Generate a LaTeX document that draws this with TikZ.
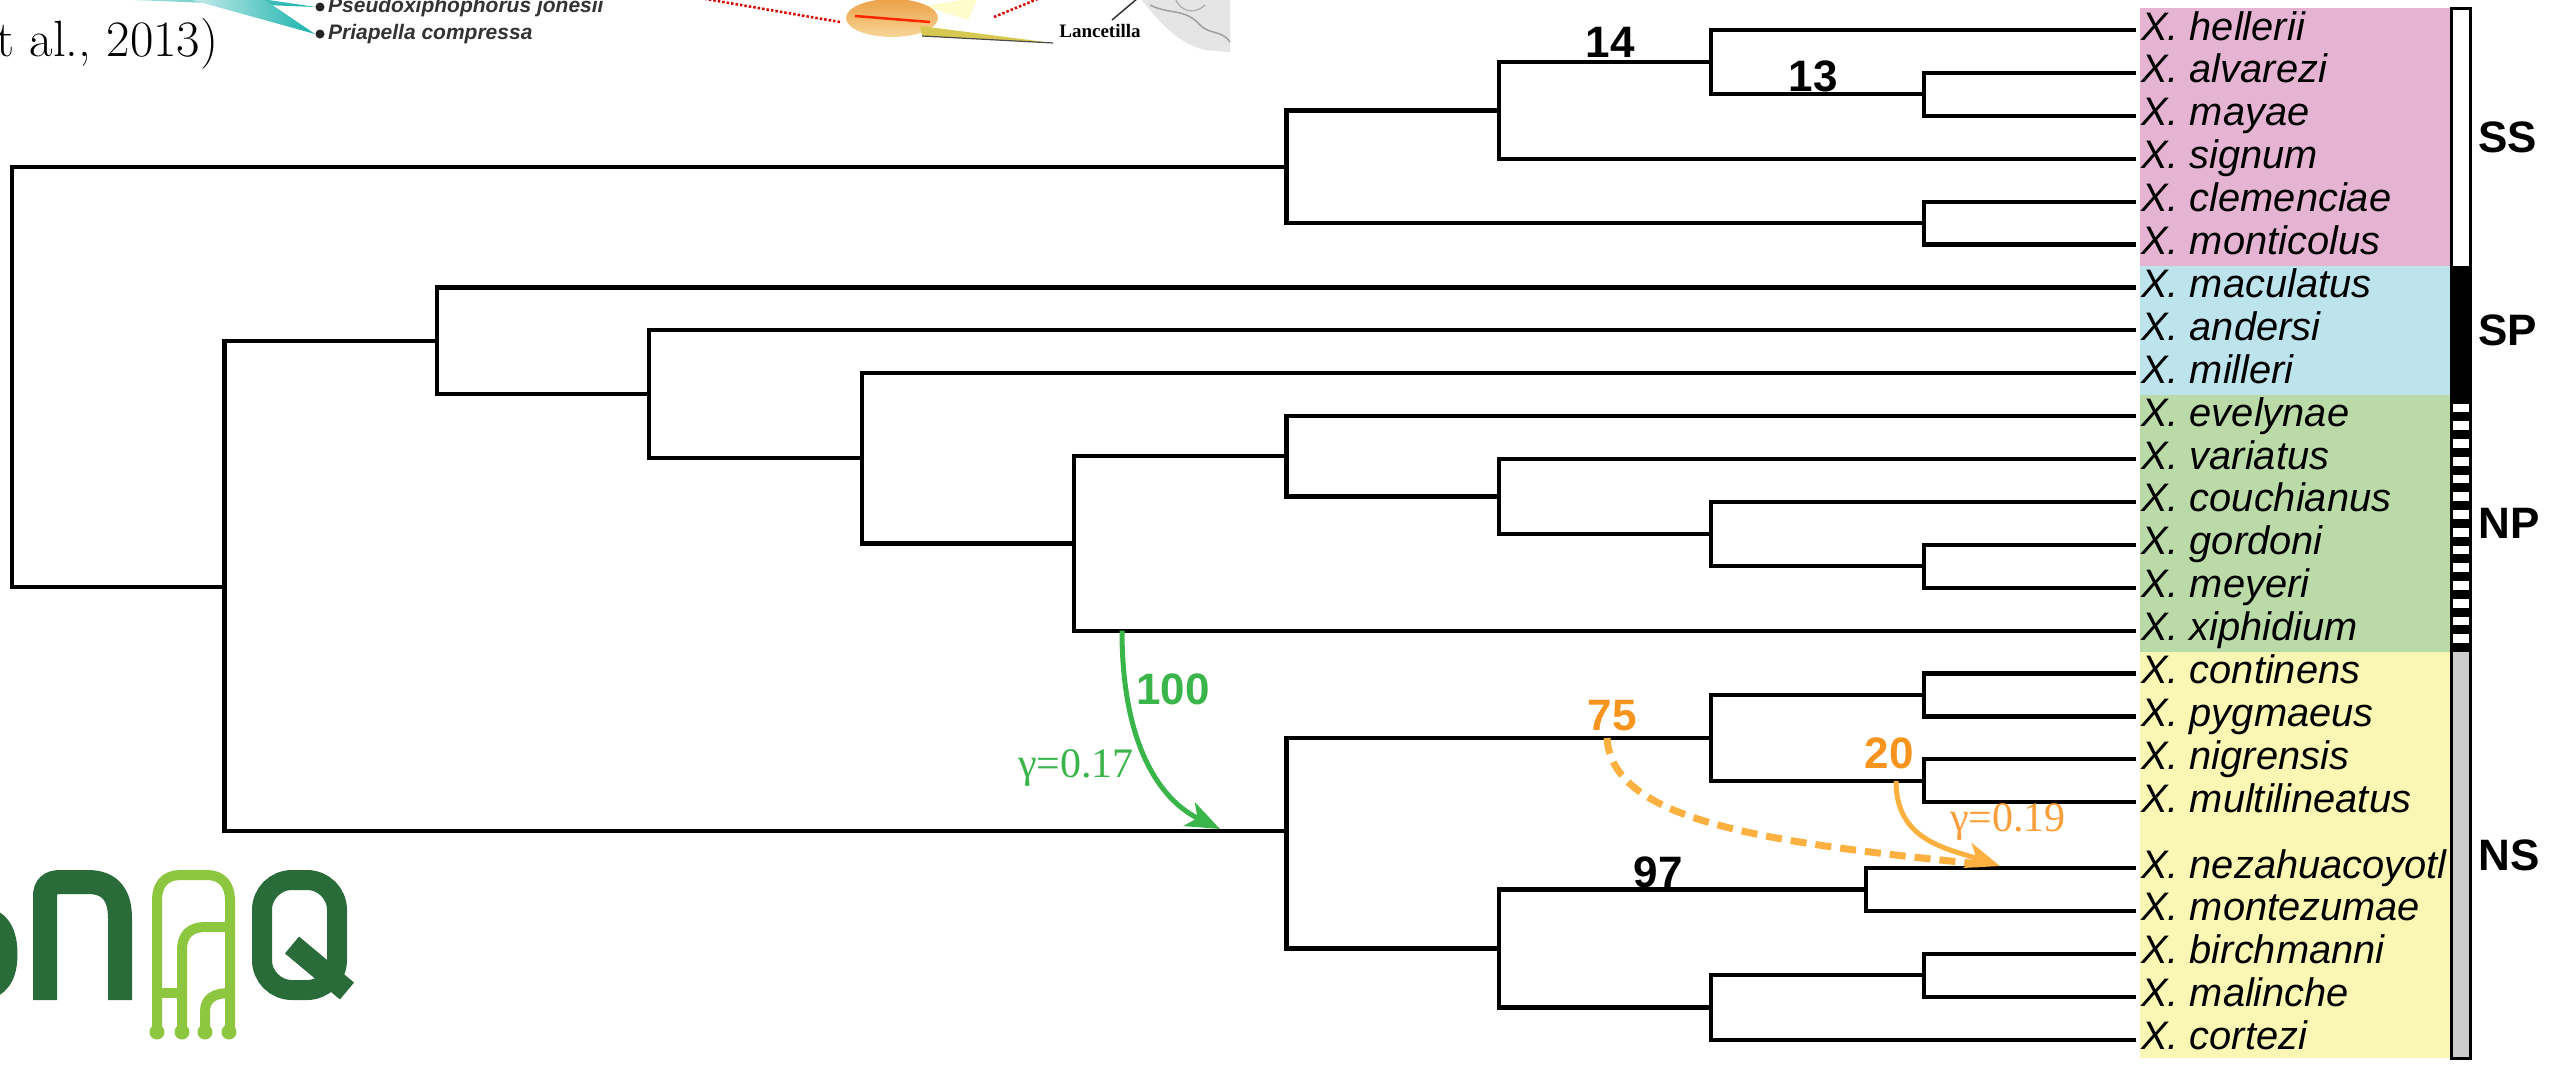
\documentclass[tikz,border=0pt]{standalone}
\usepackage{fontspec}
\usetikzlibrary{arrows.meta}
\newfontfamily\lsans{Liberation Sans}
\newfontfamily\lserif{Liberation Serif}

\definecolor{pinkbg}{RGB}{228,180,210}
\definecolor{bluebg}{RGB}{189,227,237}
\definecolor{greenbg}{RGB}{186,219,168}
\definecolor{yellowbg}{RGB}{250,246,180}
\definecolor{nsgrey}{RGB}{204,204,204}
\definecolor{hybgreen}{RGB}{57,181,74}
\definecolor{bootorange}{RGB}{247,148,29}
\definecolor{hyborange}{RGB}{251,176,64}
\definecolor{logodark}{RGB}{42,107,58}
\definecolor{logolight}{RGB}{141,198,63}
\definecolor{tealfan}{RGB}{24,178,172}
\definecolor{fishbody}{RGB}{246,214,150}
\definecolor{fishback}{RGB}{236,160,70}
\definecolor{fishsword}{RGB}{214,200,80}

\begin{document}
\begin{tikzpicture}[x=1pt,y=-1pt,
  branch/.style={line width=4.2pt},
  taxon/.style={anchor=base west, yshift=-10pt, inner sep=0pt,
    font=\lsans\itshape\fontsize{39.8}{41}\selectfont},
  grouplab/.style={anchor=west, inner sep=0pt,
    font=\lsans\bfseries\fontsize{44}{46}\selectfont},
  boot/.style={inner sep=0pt, font=\lsans\bfseries\fontsize{44}{46}\selectfont},
  gam/.style={inner sep=0pt, font=\lserif\fontsize{42}{44}\selectfont},
  hyb/.style={line width=5pt, -{Stealth[length=34pt,width=26pt,inset=9pt]}},
  logoline/.style={draw=logolight, line width=10pt},
]
\clip (0,0) rectangle (2556,1066);
\fill[white] (0,0) rectangle (2556,1066);

% ---------- fragments of a figure along the top edge ----------
\shade[left color=tealfan!20, right color=tealfan] (80,-2) -- (255,-2) -- (316,7) -- cycle;
\shade[left color=tealfan!20, right color=tealfan] (185,-2) -- (262,-2) -- (315,34) -- cycle;
\fill[black!85] (320,7) circle (4.5pt) (320,34) circle (4.5pt);
\node[anchor=west, inner sep=0pt, text=black!80,
  font=\lsans\bfseries\itshape\fontsize{21}{23}\selectfont] (pjon) at (328,7) {Pseudoxiphophorus jonesii};
\node[anchor=west, inner sep=0pt, text=black!80,
  font=\lsans\bfseries\itshape\fontsize{21}{23}\selectfont] (pcom) at (328,34) {Priapella compressa};
\node[anchor=base west, inner sep=0pt,
  font={\fontsize{51}{53}\selectfont\addfontfeatures{Numbers=OldStyle}}] (cite) at (-4,56) {t al., 2013)};
\draw[red!85!black, dotted, line width=2.5pt] (700,-2) -- (840,22);
\draw[red!85!black, dotted, line width=2.5pt] (994,17) -- (1040,-2);
% swordtail
\fill[yellow!20] (925,6) -- (978,-3) -- (968,20) -- cycle;
\shade[top color=fishback, bottom color=fishbody] (892,18) ellipse (46pt and 19pt);
\draw[red!70!orange, line width=2.5pt] (855,16) -- (930,22);
\fill[fishsword] (920,26) -- (1053,43) -- (922,36) -- cycle;
\draw[black!70, line width=1.2pt] (922,36) -- (1053,43);
\node[inner sep=0pt, font=\lserif\bfseries\fontsize{19}{20}\selectfont] (lanc) at (1100,31) {Lancetilla};
% map sketch
\fill[gray!20] (1140,-2) -- (1230,-2) -- (1230,52) -- (1205,50) .. controls (1175,42) and (1160,22) .. cycle;
\draw[gray!75, line width=1.5pt] (1150,5) .. controls (1170,15) and (1185,8) .. (1200,25) .. controls (1210,35) and (1222,30) .. (1230,42);
\draw[gray!65, line width=1.2pt] (1175,-2) .. controls (1180,12) and (1195,15) .. (1205,5);
\draw[black!80, line width=1.5pt] (1112,20) -- (1138,-2);

% ---------- logo ----------
\draw[logodark, line width=23pt] (-45,918) -- (-22,918) .. controls (0,918) and (6,935) .. (6,954)
  .. controls (6,973) and (0,989) .. (-22,989) -- (-60,989);
\draw[logodark, line width=24pt] (45,1000) -- (45,896) .. controls (45,887) and (50,882) .. (60,882)
  -- (88,882) .. controls (110,882) and (120,895) .. (120,918) -- (120,1000);
\draw[logodark, line width=20pt, rounded corners=30pt] (262,880) rectangle (337,990);
\draw[logodark, line width=22pt] (292,945) -- (347,991);
\draw[logoline] (157,1032) -- (157,900) .. controls (157,885) and (165,875) .. (180,875)
  -- (207,875) .. controls (222,875) and (230,885) .. (230,900) -- (230,1032);
\draw[logoline] (182,1032) -- (182,950) .. controls (182,935) and (190,927) .. (205,927) -- (230,927);
\draw[logoline] (157,993) -- (182,993);
\draw[logoline] (205,1032) -- (205,1012) .. controls (205,999) and (213,993) .. (230,993);
\fill[logolight] (157,1032) circle (7.5pt) (182,1032) circle (7.5pt)
  (205,1032) circle (7.5pt) (229,1032) circle (7.5pt);

% ---------- clade bands and bar ----------
\fill[pinkbg]   (2140,8)     rectangle (2451,266);
\fill[bluebg]   (2140,266)   rectangle (2451,394.6);
\fill[greenbg]  (2140,394.6) rectangle (2451,652);
\fill[yellowbg] (2140,652)   rectangle (2451,1058);
\fill[white]  (2451,8)     rectangle (2470,266);
\fill[black]  (2451,266)   rectangle (2470,394.6);
\fill[white]  (2451,394.6) rectangle (2470,652);
\foreach \k in {0,...,14}
  \fill[black] (2451,{394.6+\k*17.75}) rectangle (2470,{394.6+\k*17.75+8.9});
\fill[nsgrey] (2451,652)   rectangle (2470,1058);
\draw[line width=3pt] (2451,8) rectangle (2470,1058);
\node[grouplab] (gSS) at (2478,137) {SS};
\node[grouplab] (gSP) at (2478,330) {SP};
\node[grouplab] (gNP) at (2478,523) {NP};
\node[grouplab] (gNS) at (2478,855) {NS};

% ---------- leaves ----------
\foreach \nm/\yy/\lab in {
  hel/30/hellerii, alv/72.9/alvarezi, may/115.8/mayae, sig/158.7/signum,
  cle/201.6/clemenciae, mon/244.5/monticolus, mac/287.4/maculatus,
  and/330.3/andersi, mil/373.2/milleri, eve/416.1/evelynae, var/459/variatus,
  cou/501.9/couchianus, gor/544.8/gordoni, mey/587.7/meyeri, xip/630.6/xiphidium,
  con/673.5/continens, pyg/716.4/pygmaeus, nig/759.3/nigrensis,
  mul/802.2/multilineatus, nez/868/nezahuacoyotl, mtz/910.9/montezumae,
  bir/953.8/birchmanni, mal/996.7/malinche, cor/1039.6/cortezi}{
  \coordinate (x-\nm) at (2136,\yy);
  \node[taxon] (t-\nm) at (2141,\yy) {X. \lab};
}

% ---------- internal nodes ----------
\coordinate (root) at (12,378.6);
\coordinate (ss)   at (1286.4,166.75);
\coordinate (nA)   at (1498.8,110.44);
\coordinate (nB)   at (1711.2,62.18);
\coordinate (nC)   at (1923.6,94.35);
\coordinate (nCM)  at (1923.6,223.05);
\coordinate (r1)   at (224.4,587);
\coordinate (spnp) at (436.8,340.86);
\coordinate (nD)   at (649.2,394.32);
\coordinate (nE)   at (861.6,458.33);
\coordinate (nF)   at (1074,543.46);
\coordinate (nG)   at (1286.4,456.32);
\coordinate (nH)   at (1498.8,496.54);
\coordinate (nI)   at (1711.2,534.08);
\coordinate (nJ)   at (1923.6,566.25);
\coordinate (ns)   at (1286.4,831);
\coordinate (nK)   at (1711.2,737.85);
\coordinate (nP)   at (1923.6,694.95);
\coordinate (nQ)   at (1923.6,780.75);
\coordinate (nL)   at (1498.8,948.4);
\coordinate (n97)  at (1866,889.45);
\coordinate (nS)   at (1923.6,975.25);
\coordinate (nT)   at (1711.2,1007.4);

% ---------- branches ----------
\foreach \pa/\ch in {root/ss, root/r1,
  ss/nA, ss/nCM, nA/nB, nA/x-sig, nB/x-hel, nB/nC, nC/x-alv, nC/x-may,
  nCM/x-cle, nCM/x-mon,
  r1/spnp, r1/ns, spnp/x-mac, spnp/nD, nD/x-and, nD/nE, nE/x-mil, nE/nF,
  nF/nG, nF/x-xip, nG/x-eve, nG/nH, nH/x-var, nH/nI, nI/x-cou, nI/nJ,
  nJ/x-gor, nJ/x-mey,
  ns/nK, ns/nL, nK/nP, nK/nQ, nP/x-con, nP/x-pyg, nQ/x-nig, nQ/x-mul,
  nL/n97, nL/nT, n97/x-nez, n97/x-mtz, nT/nS, nT/x-cor, nS/x-bir, nS/x-mal}
  \draw[branch] (\pa) |- (\ch);

% ---------- support values ----------
\node[boot] (b14) at (1610,42) {14};
\node[boot] (b13) at (1813,76) {13};
\node[boot] (b97) at (1658,872) {97};
\node[boot, text=bootorange] (b75) at (1612,716) {75};
\node[boot, text=bootorange] (b20) at (1889,753) {20};
\node[boot, text=hybgreen] (b100) at (1173,689) {100};

% ---------- hybrid edges ----------
\coordinate (g-src) at (1122,630.6);
\coordinate (g-dst) at (1220,829);
\draw[hyb, draw=hybgreen] (g-src) .. controls (1122,745) and (1160,800) .. (g-dst);
\node[gam, text=hybgreen] (gam17) at (1076,768) {γ=0.17};

\coordinate (o-src) at (1607,738);
\coordinate (o2-src) at (1896,781);
\coordinate (h-dst) at (2000,866);
\draw[draw=hyborange, line width=7pt, dash pattern=on 16pt off 9pt, shorten >=22pt]
  (o-src) .. controls (1612,820) and (1760,842) .. (h-dst);
\draw[hyb, draw=hyborange] (o2-src) .. controls (1896,840) and (1945,848) .. (h-dst);
\node[gam, text=hyborange!90!red] (gam19) at (2008,822) {γ=0.19};
\end{tikzpicture}
\end{document}
